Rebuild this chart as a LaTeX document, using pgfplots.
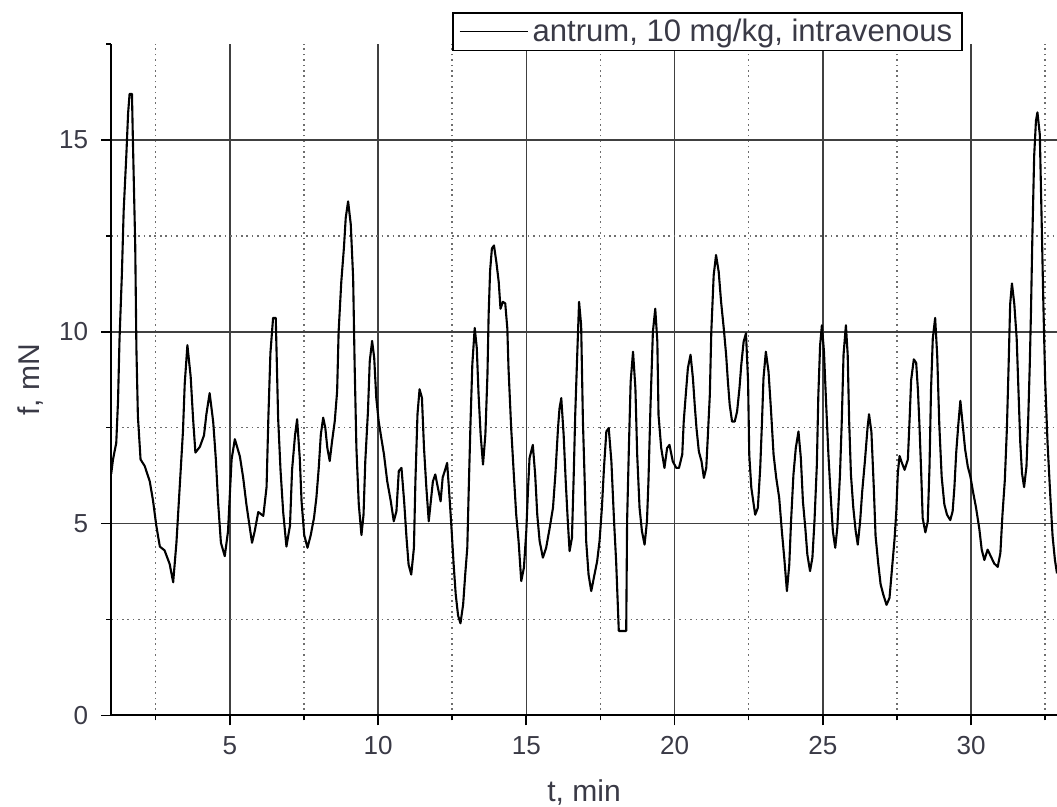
\documentclass[border=0pt]{standalone}
\usepackage{fontspec}
\setmainfont{Liberation Sans}
\usepackage{pgfplots}
\pgfplotsset{compat=1.18}
\definecolor{tickgray}{RGB}{58,58,70}
\definecolor{gridgray}{RGB}{64,64,64}
\definecolor{dotgray}{RGB}{110,110,110}

\pgfplotstableread{
t f
1.00 6.3
1.06 6.67
1.17 7.1
1.23 8.2
1.28 9.8
1.36 11.5
1.42 13.15
1.51 14.6
1.57 15.7
1.62 16.2
1.70 16.2
1.73 15.05
1.81 12.25
1.85 9.55
1.90 7.8
1.99 6.67
2.13 6.5
2.30 6.1
2.41 5.6
2.52 4.95
2.64 4.4
2.80 4.3
2.97 3.95
3.09 3.47
3.20 4.5
3.31 5.95
3.42 7.4
3.48 8.65
3.57 9.65
3.68 8.83
3.76 7.75
3.84 6.85
3.99 7.0
4.13 7.3
4.21 7.85
4.32 8.4
4.44 7.65
4.53 6.67
4.61 5.5
4.70 4.5
4.83 4.15
4.94 4.8
5.06 6.67
5.17 7.2
5.34 6.75
5.45 6.2
5.56 5.5
5.68 4.86
5.75 4.5
5.84 4.8
5.96 5.3
6.13 5.2
6.24 5.95
6.30 7.75
6.37 9.45
6.46 10.36
6.55 10.36
6.63 7.75
6.71 6.4
6.80 5.3
6.91 4.4
7.03 4.95
7.10 6.4
7.20 7.3
7.27 7.72
7.36 6.7
7.42 5.58
7.51 4.7
7.62 4.37
7.73 4.7
7.84 5.15
7.92 5.67
8.00 6.45
8.07 7.32
8.15 7.76
8.22 7.5
8.29 6.97
8.37 6.63
8.45 7.15
8.54 7.67
8.62 8.45
8.67 10.0
8.76 11.3
8.85 12.2
8.91 12.97
8.99 13.4
9.08 12.8
9.16 11.4
9.21 9.15
9.27 6.97
9.35 5.5
9.44 4.7
9.51 5.23
9.57 6.63
9.66 7.93
9.72 9.23
9.80 9.76
9.87 9.32
9.94 8.28
10.02 7.67
10.11 7.23
10.20 6.8
10.31 6.1
10.43 5.58
10.53 5.06
10.62 5.32
10.70 6.37
10.79 6.45
10.88 5.58
10.96 4.63
11.03 3.93
11.12 3.67
11.21 4.37
11.26 6.1
11.33 7.85
11.40 8.5
11.48 8.28
11.55 6.97
11.63 5.93
11.71 5.06
11.78 5.58
11.85 6.1
11.93 6.28
12.02 5.93
12.11 5.58
12.18 6.2
12.25 6.37
12.33 6.58
12.39 5.93
12.47 4.97
12.55 3.93
12.62 3.15
12.70 2.6
12.78 2.4
12.87 2.89
12.94 3.67
13.01 4.37
13.06 5.93
13.12 7.67
13.18 9.15
13.26 10.1
13.33 9.58
13.39 8.37
13.46 7.32
13.54 6.54
13.62 7.32
13.69 8.89
13.73 10.45
13.78 11.6
13.84 12.17
13.91 12.25
13.99 11.82
14.07 11.3
14.13 10.6
14.21 10.78
14.29 10.74
14.36 10.09
14.40 9.05
14.49 7.49
14.58 6.27
14.66 5.23
14.74 4.54
14.83 3.5
14.92 3.85
15.00 4.8
15.06 5.93
15.11 6.71
15.22 7.05
15.30 6.27
15.37 5.23
15.45 4.54
15.56 4.11
15.67 4.37
15.79 4.89
15.90 5.41
15.98 6.27
16.07 7.49
16.12 8.0
16.18 8.27
16.26 7.31
16.33 6.1
16.40 5.06
16.46 4.28
16.54 4.63
16.60 6.27
16.65 7.83
16.71 9.22
16.78 10.78
16.85 10.17
16.91 7.66
16.97 6.1
17.02 4.54
17.10 3.67
17.19 3.24
17.28 3.59
17.39 4.02
17.47 4.54
17.55 5.41
17.62 6.45
17.70 7.4
17.78 7.49
17.87 6.62
17.96 5.06
18.03 4.02
18.09 2.81
18.12 2.2
18.37 2.2
18.40 5.06
18.46 6.97
18.52 8.7
18.60 9.48
18.68 8.53
18.74 6.8
18.82 5.41
18.90 4.8
18.99 4.45
19.07 5.06
19.12 6.1
19.19 8.09
19.27 10.0
19.35 10.6
19.42 9.74
19.46 7.83
19.55 6.97
19.66 6.45
19.75 6.97
19.83 7.05
19.94 6.62
20.06 6.45
20.15 6.45
20.26 6.8
20.31 7.66
20.37 8.27
20.45 9.05
20.54 9.4
20.62 8.79
20.68 8.1
20.74 7.49
20.82 6.88
20.91 6.62
20.99 6.19
21.07 6.45
21.12 7.23
21.19 8.35
21.24 10.0
21.32 11.47
21.40 12.0
21.49 11.56
21.57 10.78
21.66 10.09
21.74 9.4
21.80 8.7
21.86 8.1
21.94 7.66
22.03 7.66
22.11 7.92
22.19 8.53
22.25 9.13
22.33 9.74
22.41 9.96
22.48 8.7
22.52 6.8
22.59 5.93
22.67 5.5
22.72 5.23
22.81 5.41
22.89 6.45
22.95 7.66
23.00 8.79
23.08 9.48
23.17 8.96
23.25 8.0
23.34 6.8
23.43 6.19
23.53 5.67
23.62 4.8
23.70 4.11
23.79 3.24
23.87 3.93
23.93 5.06
24.01 6.27
24.09 6.97
24.18 7.4
24.26 6.71
24.33 5.58
24.41 4.89
24.48 4.19
24.57 3.76
24.65 4.11
24.72 5.06
24.80 6.53
24.85 8.35
24.91 9.65
24.97 10.17
25.04 9.48
25.11 8.18
25.19 6.8
25.27 5.67
25.34 4.8
25.42 4.37
25.49 4.89
25.58 6.27
25.64 7.66
25.70 9.4
25.78 10.17
25.84 9.4
25.89 7.66
25.95 6.27
26.03 5.41
26.11 4.8
26.18 4.45
26.26 5.06
26.33 5.84
26.42 6.62
26.51 7.5
26.56 7.85
26.64 7.39
26.72 5.95
26.78 4.68
26.87 3.96
26.95 3.42
27.04 3.15
27.15 2.88
27.25 3.06
27.33 3.78
27.42 4.59
27.48 5.32
27.53 6.31
27.59 6.76
27.67 6.58
27.76 6.4
27.87 6.67
27.93 7.75
27.98 8.74
28.07 9.28
28.15 9.19
28.21 8.47
28.26 7.57
28.32 6.31
28.37 5.14
28.46 4.77
28.54 5.05
28.60 6.49
28.65 8.47
28.71 9.82
28.79 10.36
28.86 9.37
28.93 7.57
29.01 6.22
29.10 5.5
29.19 5.23
29.30 5.09
29.38 5.32
29.44 5.95
29.50 6.85
29.57 7.57
29.64 8.2
29.72 7.57
29.80 6.94
29.89 6.49
29.98 6.22
30.06 5.86
30.17 5.41
30.28 4.86
30.36 4.32
30.45 4.05
30.56 4.32
30.67 4.14
30.78 3.96
30.90 3.87
30.99 4.23
31.06 5.23
31.14 6.13
31.21 7.48
31.27 9.19
31.32 10.72
31.38 11.26
31.46 10.72
31.54 9.82
31.60 8.47
31.66 7.12
31.72 6.31
31.79 5.95
31.87 6.49
31.93 7.75
31.98 9.1
32.02 10.45
32.07 12.52
32.13 14.59
32.19 15.5
32.24 15.72
32.32 15.14
32.38 12.97
32.44 10.72
32.50 8.74
32.58 7.12
32.67 5.77
32.75 4.68
32.83 4.05
32.90 3.7
}\forcedata

\begin{document}
\begin{tikzpicture}
\begin{axis}[
  name=ax,
  scale only axis,
  width=472pt, height=335pt,
  xmin=1, xmax=32.9, ymin=0, ymax=17.5,
  axis x line*=bottom, axis y line*=left,
  axis line style={line width=0.9pt, black, -},
  xtick={5,10,15,20,25,30},
  minor xtick={2.5,7.5,12.5,17.5,22.5,27.5,32.5},
  ytick={0,5,10,15},
  minor ytick={2.5,7.5,12.5},
  extra y ticks={17.5},
  extra y tick labels={},
  extra y tick style={grid=none, major tick length=2.5pt},
  tick align=outside,
  major tick length=5pt,
  minor tick length=2.5pt,
  tick style={black, line width=0.8pt},
  grid=both,
  major grid style={gridgray, line width=0.75pt},
  minor grid style={dotgray, line width=0.8pt, dash pattern=on 0.8pt off 1.9pt},
  ticklabel style={font=\fontsize{13}{15}\selectfont, text=tickgray},
  yticklabel style={xshift=-3pt},
  xticklabel style={yshift=-2pt},
  /pgf/number format/assume math mode=true,
  xlabel={t, min},
  ylabel={f, mN},
  xlabel style={at={(axis description cs:0.5,-0.115)}, anchor=center, font=\fontsize{15}{18}\selectfont, text=tickgray},
  ylabel style={at={(axis description cs:-0.0856,0.5)}, anchor=center, font=\fontsize{15}{18}\selectfont, text=tickgray},
  legend style={at={(axis description cs:0.9006,1.0478)}, anchor=north east,
    draw=black, line width=0.8pt, fill=white,
    font=\fontsize{15.5}{18}\selectfont, text=tickgray,
    inner xsep=3pt, inner ysep=1pt},
  legend image code/.code={\draw[#1, line width=0.9pt] (0pt,0pt) -- (34pt,0pt);},
]
\addplot[black, line width=1.05pt, line join=round] table[x=t, y=f] {\forcedata};
\addlegendentry{antrum, 10 mg/kg, intravenous}
\end{axis}
\pgfresetboundingbox
\path[use as bounding box] ([xshift=-55.5pt,yshift=-45.5pt]ax.south west) rectangle ([yshift=22pt]ax.north east);
\end{tikzpicture}
\end{document}
